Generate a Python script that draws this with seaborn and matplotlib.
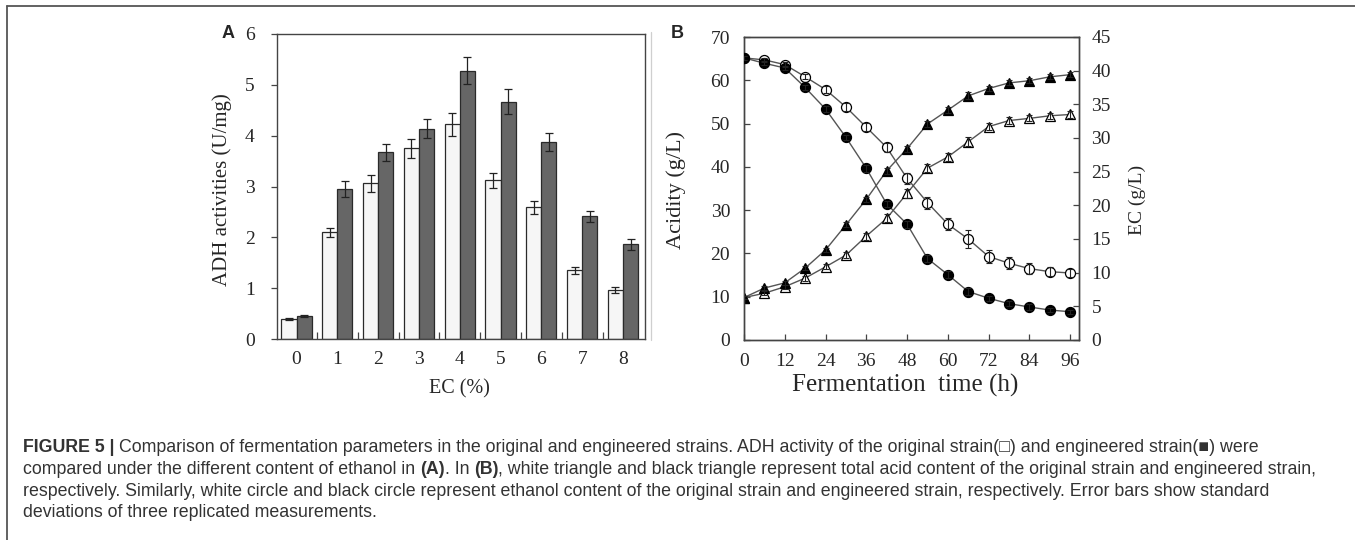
import numpy as np
import pandas as pd
import matplotlib
matplotlib.use("Agg")
import matplotlib.pyplot as plt
import seaborn as sns
from matplotlib.lines import Line2D
from matplotlib.ticker import FixedLocator

# ---------------- data ----------------
ec_levels = [0, 1, 2, 3, 4, 5, 6, 7, 8]
adh_original = [0.40, 2.10, 3.06, 3.75, 4.22, 3.12, 2.59, 1.35, 0.96]
adh_original_sd = [0.02, 0.09, 0.16, 0.18, 0.22, 0.15, 0.13, 0.07, 0.06]
adh_engineered = [0.45, 2.95, 3.67, 4.14, 5.28, 4.67, 3.87, 2.41, 1.86]
adh_engineered_sd = [0.02, 0.15, 0.16, 0.19, 0.27, 0.25, 0.18, 0.10, 0.11]

time_h = [0, 6, 12, 18, 24, 30, 36, 42, 48, 54, 60, 66, 72, 78, 84, 90, 96]
acid_original = [9.8, 10.8, 12.3, 14.3, 16.9, 19.6, 24.0, 28.1, 33.9, 39.7,
                 42.3, 45.8, 49.3, 50.7, 51.2, 51.8, 52.1]
acid_original_sd = [0.3, 0.5, 0.5, 0.6, 0.6, 0.7, 0.8, 0.9, 1.0, 0.9,
                    0.9, 1.0, 0.8, 0.8, 0.7, 0.7, 0.7]
acid_engineered = [9.8, 12.0, 13.2, 16.6, 20.8, 26.6, 32.5, 39.1, 44.2, 49.9,
                   53.1, 56.4, 58.1, 59.4, 59.9, 60.8, 61.3]
acid_engineered_sd = [0.3, 0.4, 0.4, 0.5, 0.5, 0.6, 0.6, 0.7, 0.7, 0.7,
                      0.7, 0.8, 0.6, 0.6, 0.6, 0.6, 0.6]
ethanol_original = [41.9, 41.6, 40.9, 39.1, 37.2, 34.6, 31.6, 28.6, 24.0, 20.4,
                    17.2, 15.0, 12.4, 11.4, 10.6, 10.15, 9.95]
ethanol_original_sd = [0.3, 0.3, 0.4, 0.4, 0.5, 0.6, 0.6, 0.7, 0.8, 0.9,
                       0.9, 1.3, 0.9, 0.9, 0.8, 0.7, 0.6]
ethanol_engineered = [41.9, 41.1, 40.4, 37.5, 34.3, 30.1, 25.5, 20.2, 17.2, 12.1,
                      9.7, 7.2, 6.2, 5.4, 4.9, 4.45, 4.2]
ethanol_engineered_sd = [0.3, 0.3, 0.3, 0.4, 0.4, 0.4, 0.5, 0.5, 0.5, 0.5,
                         0.5, 0.5, 0.4, 0.4, 0.4, 0.3, 0.3]

strain_labels = ["original", "engineered"]
caption_lines = [
    [("FIGURE 5 | ", "bold"),
     ("Comparison of fermentation parameters in the original and engineered strains. "
      "ADH activity of the original strain(\u25a1) and engineered strain(\u25a0) were", "normal")],
    [("compared under the different content of ethanol in ", "normal"), ("(A)", "bold"),
     (". In ", "normal"), ("(B)", "bold"),
     (", white triangle and black triangle represent total acid content of the original "
      "strain and engineered strain,", "normal")],
    [("respectively. Similarly, white circle and black circle represent ethanol content of "
      "the original strain and engineered strain, respectively. Error bars show standard", "normal")],
    [("deviations of three replicated measurements.", "normal")],
]

# ---------------- style ----------------
sns.set_style("ticks")
plt.rcParams["font.family"] = ["Liberation Serif", "DejaVu Serif"]
W, H = 1355, 540
fig = plt.figure(figsize=(W / 100, H / 100), dpi=100)
fig.patch.set_facecolor("white")

spine_c = "#444444"
tick_fs = 14

def fx(px):
    return px / W

def fy(py):
    return 1 - py / H

# ---------------- panel A ----------------
axA = fig.add_axes([fx(277), fy(339), (645 - 277) / W, (339 - 34) / H])
dfA = pd.DataFrame({
    "ec": ec_levels * 2,
    "val": adh_original + adh_engineered,
    "strain": [strain_labels[0]] * len(ec_levels) + [strain_labels[1]] * len(ec_levels),
})
sns.barplot(data=dfA, x="ec", y="val", hue="strain", hue_order=strain_labels,
            palette={"original": "#f6f6f6", "engineered": "#666666"},
            width=0.74, edgecolor="#2a2a2a", linewidth=0.9, errorbar=None,
            legend=False, ax=axA, saturation=1)
sds = {"original": adh_original_sd, "engineered": adh_engineered_sd}
vals = {"original": adh_original, "engineered": adh_engineered}
for container, lab in zip(axA.containers, strain_labels):
    xs = [p.get_x() + p.get_width() / 2 for p in container.patches]
    axA.errorbar(xs, vals[lab], yerr=sds[lab], fmt="none", ecolor="#222222",
                 elinewidth=0.9, capsize=3.2, capthick=0.9, zorder=5)
axA.set_xlim(-0.48, 8.54)
axA.set_ylim(0, 6)
axA.set_yticks(range(0, 7))
axA.set_xticks(range(len(ec_levels)))
axA.set_xticklabels([str(v) for v in ec_levels])
axA.xaxis.set_minor_locator(FixedLocator([i + 0.5 for i in range(8)]))
axA.tick_params(axis="x", which="major", length=0, pad=9, labelsize=tick_fs)
axA.tick_params(axis="x", which="minor", direction="in", length=5, width=0.9, color=spine_c)
axA.tick_params(axis="y", which="major", direction="out", length=4, width=0.9,
                color=spine_c, pad=12, labelsize=tick_fs)
axA.set_xlabel("EC (%)", fontsize=14.5)
axA.set_ylabel("ADH activities (U/mg)", fontsize=15)
axA.xaxis.set_label_coords(0.495, -0.132)
axA.yaxis.set_label_coords(-0.122, 0.49)
for s in axA.spines.values():
    s.set_visible(True)
    s.set_color(spine_c)
    s.set_linewidth(1.0)

# ---------------- panel B ----------------
axB = fig.add_axes([fx(744), fy(340), (1079 - 744) / W, (340 - 37) / H])
axB2 = axB.twinx()
line_c = "#555555"

def draw_series(ax, y, sd, marker, face, ms):
    sns.lineplot(x=time_h, y=y, ax=ax, color=line_c, linewidth=1.0, marker=marker,
                 markersize=ms, markerfacecolor=face, markeredgecolor="black",
                 markeredgewidth=0.9, zorder=3, legend=False, errorbar=None)
    ax.errorbar(time_h, y, yerr=sd, fmt="none", ecolor="#222222", elinewidth=0.8,
                capsize=2.2, capthick=0.8, zorder=4)

draw_series(axB, acid_original, acid_original_sd, "^", "white", 6.5)
draw_series(axB, acid_engineered, acid_engineered_sd, "^", "black", 6.5)
draw_series(axB2, ethanol_original, ethanol_original_sd, "o", "white", 7.2)
draw_series(axB2, ethanol_engineered, ethanol_engineered_sd, "o", "black", 7.2)

axB.set_xlim(0, 98.6)
axB.set_ylim(0, 70)
axB2.set_ylim(0, 45)
axB.set_xticks(range(0, 97, 12))
axB.set_yticks(range(0, 71, 10))
axB2.set_yticks(range(0, 46, 5))
axB.tick_params(axis="x", direction="in", length=4, width=0.9, color=spine_c,
                pad=9, labelsize=tick_fs)
axB.tick_params(axis="y", direction="in", length=4, width=0.9, color=spine_c,
                pad=10, labelsize=tick_fs)
axB2.tick_params(axis="y", direction="in", length=4, width=0.9, color=spine_c,
                 pad=9, labelsize=tick_fs)
axB.set_xlabel("Fermentation  time (h)", fontsize=18)
axB.set_ylabel("Acidity (g/L)", fontsize=16)
axB2.set_ylabel("EC (g/L)", fontsize=14, rotation=90)
axB.xaxis.set_label_coords(0.48, -0.112)
axB.yaxis.set_label_coords(-0.173, 0.495)
axB2.yaxis.set_label_coords(1.147, 0.462)
for ax in (axB, axB2):
    for s in ax.spines.values():
        s.set_visible(True)
        s.set_color(spine_c)
        s.set_linewidth(1.0)

# panel letters
fig.text(fx(228), fy(33), "A", fontsize=13, weight="bold",
         family=["Liberation Sans", "DejaVu Sans"], ha="center", va="center")
fig.text(fx(677), fy(33), "B", fontsize=13, weight="bold",
         family=["Liberation Sans", "DejaVu Sans"], ha="center", va="center")

# frame lines
fig.add_artist(Line2D([fx(7), 1], [fy(6), fy(6)], transform=fig.transFigure,
                      color="#555555", lw=1.3))
fig.add_artist(Line2D([fx(7), fx(7)], [0, fy(6)], transform=fig.transFigure,
                      color="#555555", lw=1.3))
fig.add_artist(Line2D([fx(651), fx(651)], [fy(340), fy(32)], transform=fig.transFigure,
                      color="#cfcfcf", lw=0.9))

# ---------------- caption ----------------
cap_family = ["Liberation Sans", "DejaVu Sans"]
cap_color = "#333333"
fig.canvas.draw()
renderer = fig.canvas.get_renderer()

def seg_width(s, weight, size):
    t = fig.text(0, 0, s + "|", fontsize=size, weight=weight, family=cap_family)
    w1 = t.get_window_extent(renderer).width
    t.set_text("|")
    w2 = t.get_window_extent(renderer).width
    t.remove()
    return w1 - w2

base = 10.0
w_line2 = sum(seg_width(s, wt, base) for s, wt in caption_lines[1])
cap_fs = base * (1329 - 23) / w_line2

baselines = [452, 474, 496, 517]
for segs, yb in zip(caption_lines, baselines):
    x = 23.0
    for s, wt in segs:
        fig.text(fx(x), fy(yb), s, fontsize=cap_fs, weight=wt, family=cap_family,
                 color=cap_color, ha="left", va="baseline")
        x += seg_width(s, wt, cap_fs)

fig.savefig("out.png", dpi=100, facecolor="white")
